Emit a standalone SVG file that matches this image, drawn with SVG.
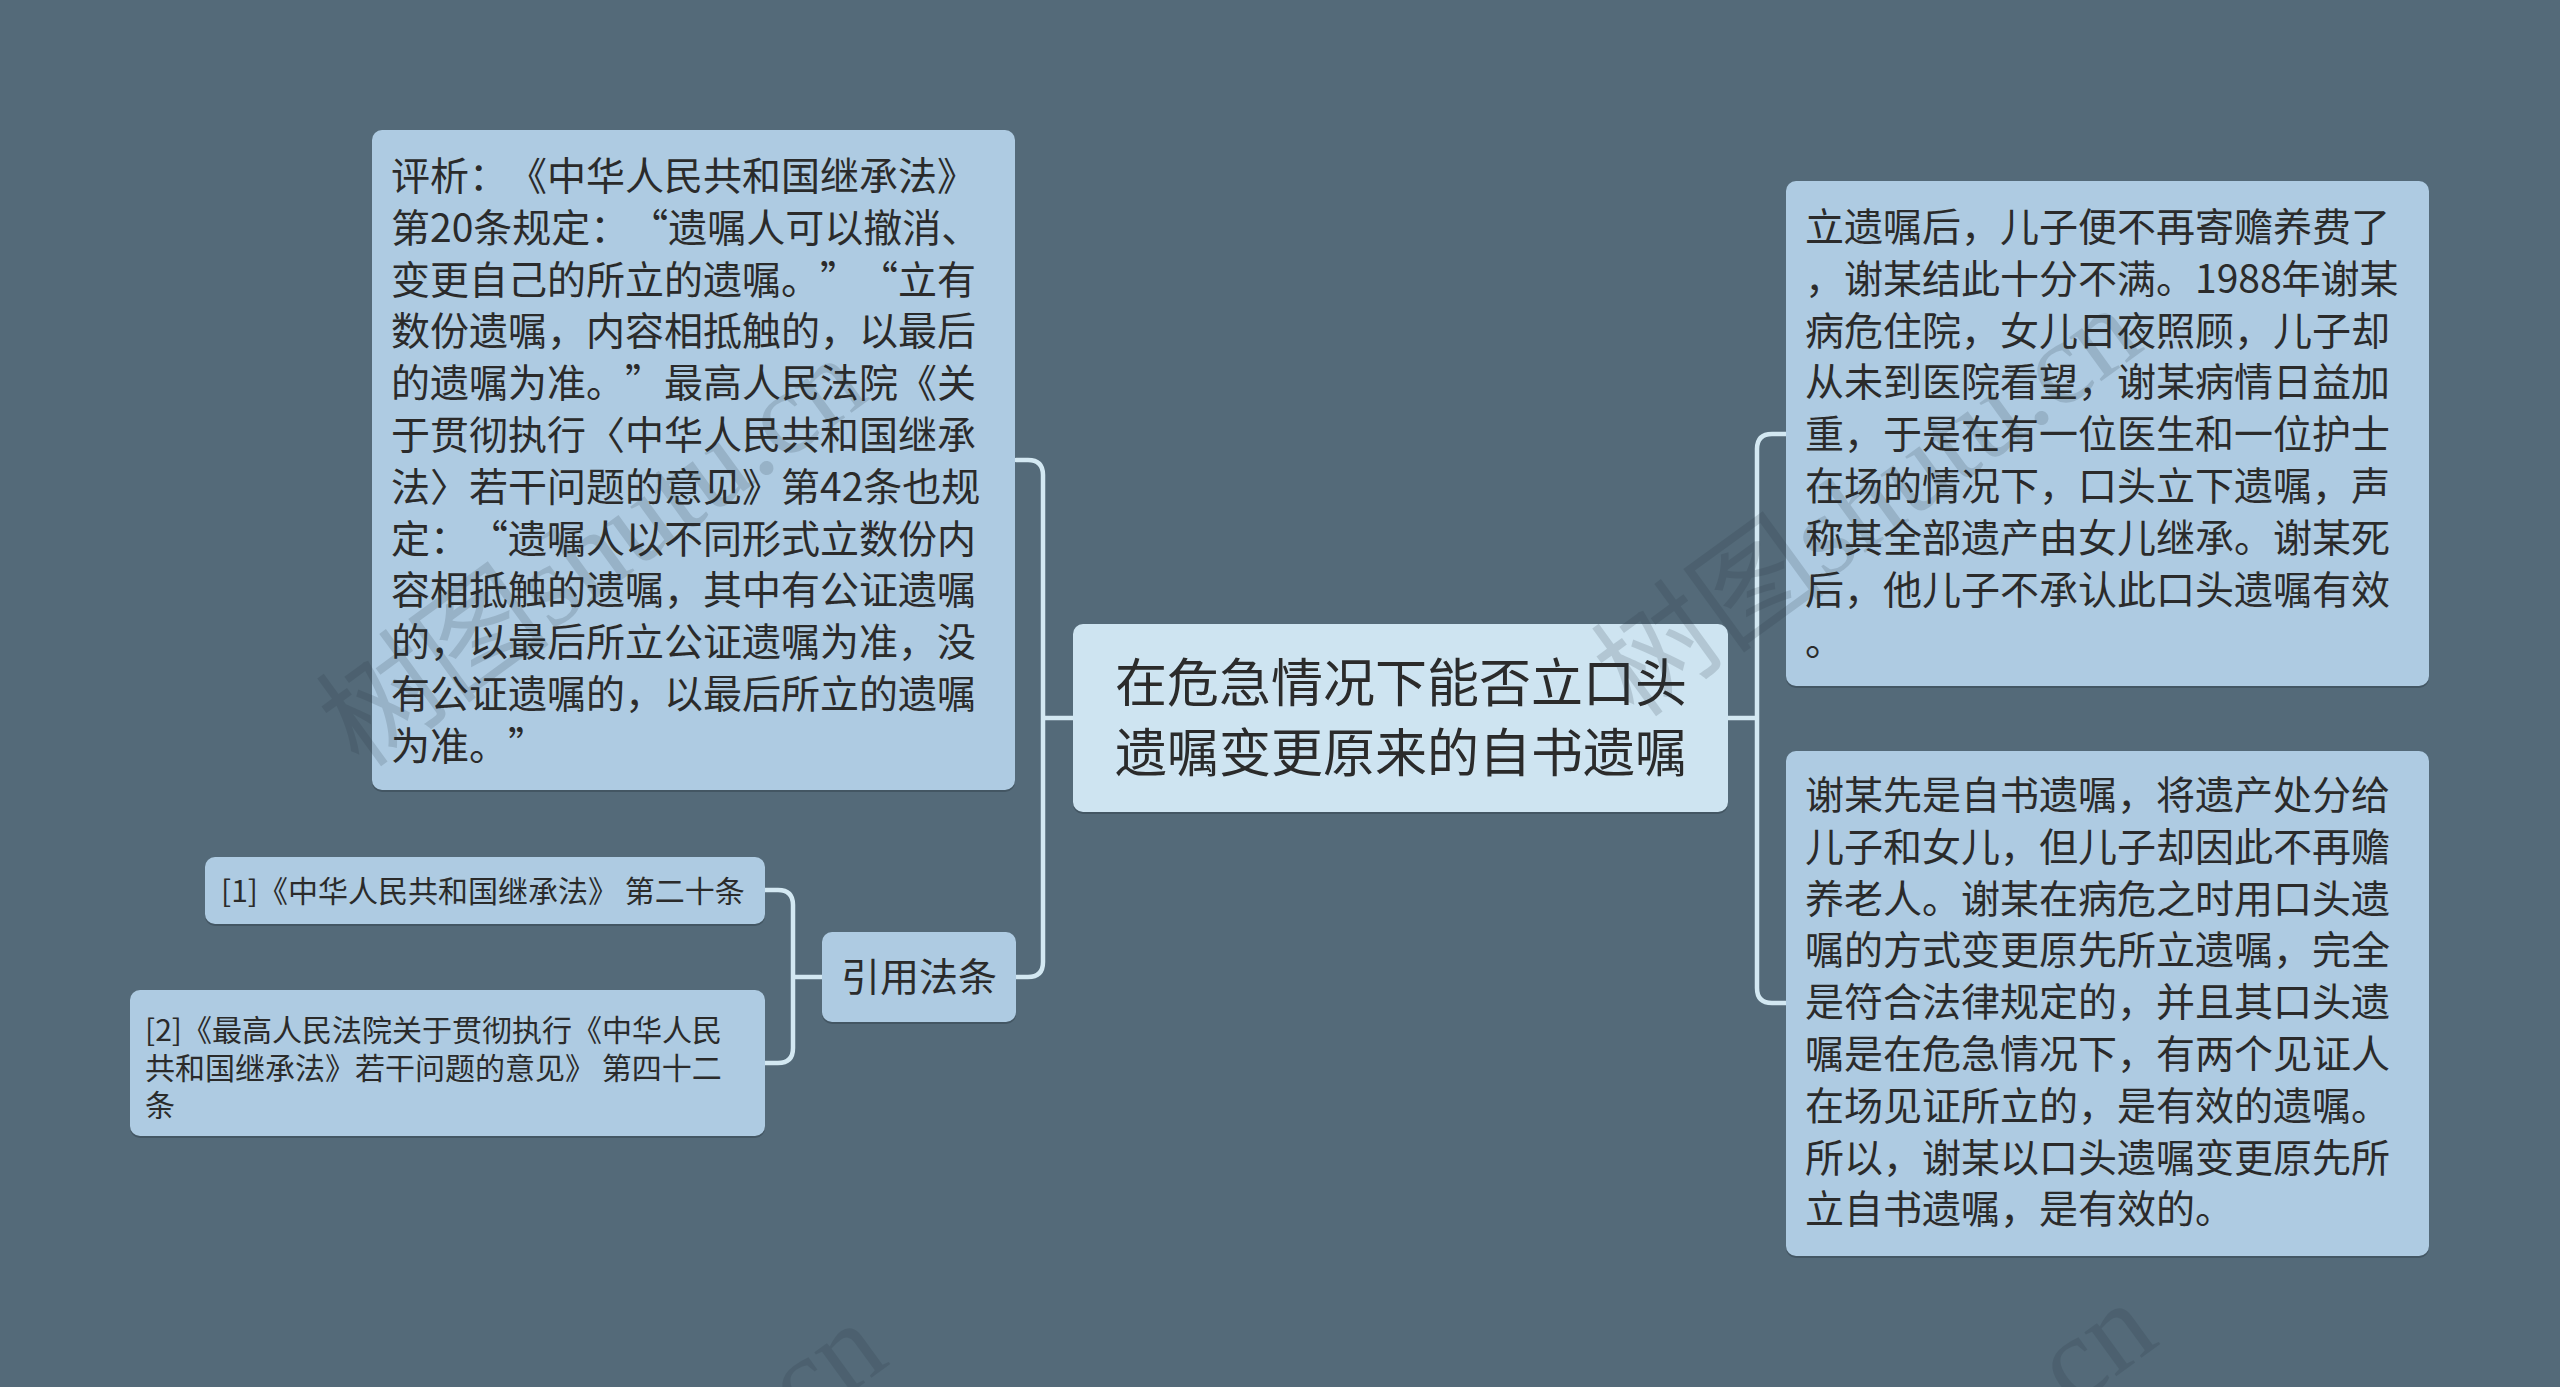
<svg xmlns="http://www.w3.org/2000/svg" width="2560" height="1387" viewBox="0 0 2560 1387">
<style>
.bg{fill:#546a79}
.node{fill:#aecbe2}
.root{fill:#cee4f1}
.shadow{fill:#435663}
.t{font-family:"Noto Sans CJK SC","Noto Sans",sans-serif;fill:#2b2b2b;text-spacing-trim:space-all}
.q{font-feature-settings:"fwid" 1;font-variant-east-asian:full-width}
.big{font-size:39px}
.sm{font-size:30px}
.rt{font-size:52px}
.link{fill:none;stroke:#d3e8f2;stroke-width:4.5;stroke-linecap:round}
.wm{font-family:"Liberation Serif","Noto Sans CJK SC",serif;font-size:118px;fill:#24333e;opacity:0.16}
</style>
<rect class="bg" x="0" y="0" width="2560" height="1387"/>

<g id="connectors">
  <path class="link" d="M1073,718 H1043 M1043,718 V475 Q1043,460 1028,460 H1016 M1043,718 V962 Q1043,977 1028,977 H1016"/>
  <path class="link" d="M1728,718 H1757 M1757,718 V449 Q1757,434 1772,434 H1787 M1757,718 V988 Q1757,1003 1772,1003 H1787"/>
  <path class="link" d="M822,977 H793 M793,977 V905 Q793,890 778,890 H765 M793,977 V1048 Q793,1063 778,1063 H765"/>
</g>

<g id="node-analysis">
  <rect class="shadow" x="372" y="132" width="643" height="660" rx="10"/>
  <rect class="node" x="372" y="130" width="643" height="660" rx="10"/>
  <text class="t big" x="391" y="190">评析：《中华人民共和国继承法》</text>
  <text class="t big" x="391" y="241.8">第20条规定：<tspan class="q">“</tspan>遗嘱人可以撤消、</text>
  <text class="t big" x="391" y="293.6">变更自己的所立的遗嘱。<tspan class="q">”“</tspan>立有</text>
  <text class="t big" x="391" y="345.4">数份遗嘱，内容相抵触的，以最后</text>
  <text class="t big" x="391" y="397.2">的遗嘱为准。<tspan class="q">”</tspan>最高人民法院《关</text>
  <text class="t big" x="391" y="449">于贯彻执行〈中华人民共和国继承</text>
  <text class="t big" x="391" y="500.8">法〉若干问题的意见》第42条也规</text>
  <text class="t big" x="391" y="552.6">定：<tspan class="q">“</tspan>遗嘱人以不同形式立数份内</text>
  <text class="t big" x="391" y="604.4">容相抵触的遗嘱，其中有公证遗嘱</text>
  <text class="t big" x="391" y="656.2">的，以最后所立公证遗嘱为准，没</text>
  <text class="t big" x="391" y="708">有公证遗嘱的，以最后所立的遗嘱</text>
  <text class="t big" x="391" y="759.8">为准。<tspan class="q">”</tspan></text>
</g>

<g id="node-root">
  <rect class="shadow" x="1073" y="626" width="655" height="188" rx="10"/>
  <rect class="root" x="1073" y="624" width="655" height="188" rx="10"/>
  <text class="t rt" x="1401" y="702" text-anchor="middle">在危急情况下能否立口头</text>
  <text class="t rt" x="1401" y="772" text-anchor="middle">遗嘱变更原来的自书遗嘱</text>
</g>

<g id="node-facts">
  <rect class="shadow" x="1786" y="183" width="643" height="505" rx="10"/>
  <rect class="node" x="1786" y="181" width="643" height="505" rx="10"/>
  <text class="t big" x="1805" y="241">立遗嘱后，儿子便不再寄赡养费了</text>
  <text class="t big" x="1805" y="292.8">，谢某结此十分不满。1988年谢某</text>
  <text class="t big" x="1805" y="344.6">病危住院，女儿日夜照顾，儿子却</text>
  <text class="t big" x="1805" y="396.4">从未到医院看望，谢某病情日益加</text>
  <text class="t big" x="1805" y="448.2">重，于是在有一位医生和一位护士</text>
  <text class="t big" x="1805" y="500">在场的情况下，口头立下遗嘱，声</text>
  <text class="t big" x="1805" y="551.8">称其全部遗产由女儿继承。谢某死</text>
  <text class="t big" x="1805" y="603.6">后，他儿子不承认此口头遗嘱有效</text>
  <text class="t big" x="1805" y="655.4">。</text>
</g>

<g id="node-conclusion">
  <rect class="shadow" x="1786" y="753" width="643" height="505" rx="10"/>
  <rect class="node" x="1786" y="751" width="643" height="505" rx="10"/>
  <text class="t big" x="1805" y="809">谢某先是自书遗嘱，将遗产处分给</text>
  <text class="t big" x="1805" y="860.8">儿子和女儿，但儿子却因此不再赡</text>
  <text class="t big" x="1805" y="912.6">养老人。谢某在病危之时用口头遗</text>
  <text class="t big" x="1805" y="964.4">嘱的方式变更原先所立遗嘱，完全</text>
  <text class="t big" x="1805" y="1016.2">是符合法律规定的，并且其口头遗</text>
  <text class="t big" x="1805" y="1068">嘱是在危急情况下，有两个见证人</text>
  <text class="t big" x="1805" y="1119.8">在场见证所立的，是有效的遗嘱。</text>
  <text class="t big" x="1805" y="1171.6">所以，谢某以口头遗嘱变更原先所</text>
  <text class="t big" x="1805" y="1223.4">立自书遗嘱，是有效的。</text>
</g>

<g id="node-laws">
  <rect class="shadow" x="822" y="934" width="194" height="90" rx="10"/>
  <rect class="node" x="822" y="932" width="194" height="90" rx="10"/>
  <text class="t big" x="919" y="991" text-anchor="middle">引用法条</text>
</g>

<g id="node-law1">
  <rect class="shadow" x="205" y="859" width="560" height="67" rx="10"/>
  <rect class="node" x="205" y="857" width="560" height="67" rx="10"/>
  <text class="t sm" x="221" y="902">[1]《中华人民共和国继承法》 第二十条</text>
</g>

<g id="node-law2">
  <rect class="shadow" x="130" y="992" width="635" height="146" rx="10"/>
  <rect class="node" x="130" y="990" width="635" height="146" rx="10"/>
  <text class="t sm" x="145" y="1041">[2]《最高人民法院关于贯彻执行《中华人民</text>
  <text class="t sm" x="145" y="1078.5">共和国继承法》若干问题的意见》 第四十二</text>
  <text class="t sm" x="145" y="1116">条</text>
</g>

<g id="watermark">
  <text class="wm" x="360" y="770" transform="rotate(-36 360 770)">树图shutu.cn</text>
  <text class="wm" x="1635" y="720" transform="rotate(-36 1635 720)">树图shutu.cn</text>
  <text class="wm" x="380" y="1735" transform="rotate(-36 380 1735)">树图shutu.cn</text>
  <text class="wm" x="1650" y="1715" transform="rotate(-36 1650 1715)">树图shutu.cn</text>
</g>
</svg>
